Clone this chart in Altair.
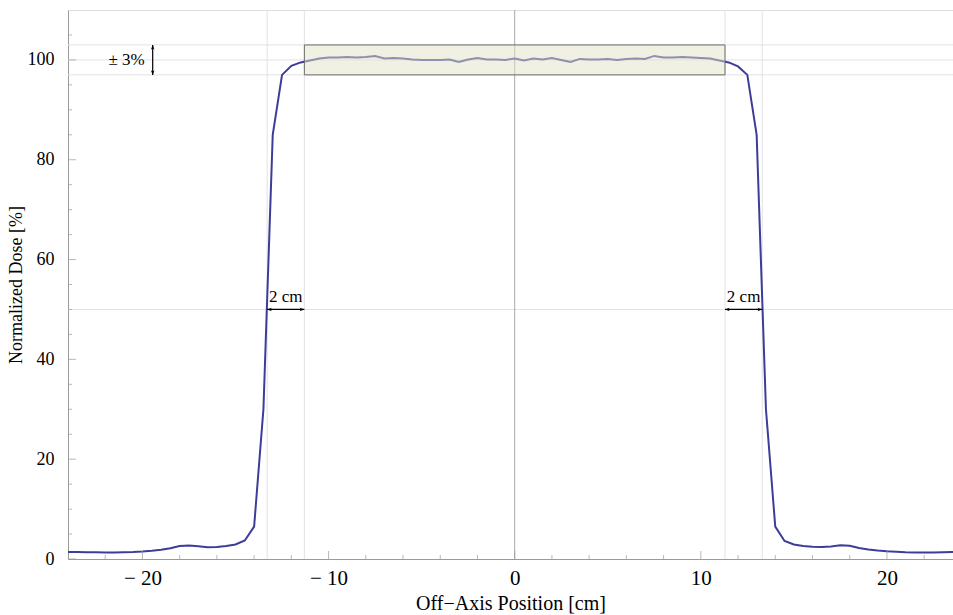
import altair as alt
import numpy as np
import pandas as pd

# Off-axis dose profile, sampled every 0.5 cm
positions = list(np.arange(-24.0, 24.01, 0.5))
dose = [
    1.4, 1.4, 1.35, 1.35, 1.3, 1.3, 1.35, 1.4, 1.5, 1.65,
    1.85, 2.15, 2.6, 2.7, 2.55, 2.35, 2.4, 2.6, 2.9, 3.7,
    6.5, 30.0, 85.0, 97.0, 98.8, 99.5, 99.9, 100.3, 100.5, 100.5,
    100.6, 100.5, 100.6, 100.8, 100.3, 100.4, 100.3, 100.1, 100.0, 100.0,
    100.0, 100.1, 99.6, 100.1, 100.4, 100.1, 100.1, 100.0, 100.3, 99.9,
    100.3, 100.1, 100.4, 100.0, 99.6, 100.2, 100.1, 100.1, 100.2, 100.0,
    100.2, 100.3, 100.2, 100.8, 100.5, 100.5, 100.6, 100.5, 100.4, 100.3,
    99.9, 99.5, 98.7, 97.0, 85.0, 30.0, 6.5, 3.6, 2.9, 2.6,
    2.45, 2.4, 2.5, 2.75, 2.65, 2.2, 1.9, 1.7, 1.55, 1.45,
    1.35, 1.3, 1.3, 1.3, 1.35, 1.4, 1.4,
]
assert len(positions) == len(dose)

# Reference lines: 50% level, penumbra edges, flatness band
edge_lines = [-13.3, -11.3, 11.3, 13.3]
level_lines = [50, 97, 100, 103]
band_x = (-11.3, 11.3)
band_y = (97, 103)

# Axis ticks (drawn inward)
x_major = [-20, -10, 0, 10, 20]
x_minor = [-22, -18, -16, -14, -12, -8, -6, -4, -2, 2, 4, 6, 8, 12, 14, 16, 18, 22]
y_major = [0, 20, 40, 60, 80, 100]
y_minor = [5, 10, 15, 25, 30, 35, 45, 50, 55, 65, 70, 75, 85, 90, 95, 105]

XMIN, XMAX = -24.0, 23.55
YMIN, YMAX = 0.0, 110.0
FONT = "Liberation Serif"
LINE = "#3d3d99"

profile = pd.DataFrame({"x": positions, "dose": dose})

xs = alt.Scale(domain=[XMIN, XMAX], nice=False, zero=False)
ys = alt.Scale(domain=[YMIN, YMAX], nice=False, zero=False)

x_axis = alt.Axis(
    values=x_major, ticks=False, grid=False, domainColor="#9a9a9a",
    labelFont=FONT, labelFontSize=21, labelColor="black", labelPadding=8,
    labelExpr="datum.value < 0 ? '\u2212 ' + abs(datum.value) : datum.label",
    title="Off\u2212Axis Position [cm]", titleFont=FONT, titleFontSize=20,
    titleFontWeight="normal", titleColor="black", titlePadding=5,
)
y_axis = alt.Axis(
    values=y_major, ticks=False, grid=False, domainColor="#9a9a9a",
    labelFont=FONT, labelFontSize=18, labelColor="black", labelPadding=14,
    title="Normalized Dose [%]", titleFont=FONT, titleFontSize=18,
    titleFontWeight="normal", titleColor="black", titlePadding=2,
)

base = alt.Chart(profile)

vgrid = alt.Chart(pd.DataFrame({"x": edge_lines})).mark_rule(
    color="#e2e2e2", strokeWidth=1
).encode(x=alt.X("x:Q", scale=xs))

zero_line = alt.Chart(pd.DataFrame({"x": [0]})).mark_rule(
    color="#a8a8a8", strokeWidth=1
).encode(x=alt.X("x:Q", scale=xs))

hgrid = alt.Chart(pd.DataFrame({"y": level_lines})).mark_rule(
    color="#e2e2e2", strokeWidth=1
).encode(y=alt.Y("y:Q", scale=ys))

curve = base.mark_line(color=LINE, strokeWidth=2, clip=True).encode(
    x=alt.X("x:Q", scale=xs, axis=x_axis),
    y=alt.Y("dose:Q", scale=ys, axis=y_axis),
)

band = alt.Chart(
    pd.DataFrame({"x": [band_x[0]], "x2": [band_x[1]], "y": [band_y[0]], "y2": [band_y[1]]})
).mark_rect(
    fill="#e2e2c8", fillOpacity=0.5, stroke="#6e6e6e", strokeWidth=1
).encode(
    x=alt.X("x:Q", scale=xs), x2="x2:Q",
    y=alt.Y("y:Q", scale=ys), y2="y2:Q",
)

# Double-headed arrows
arrow_path = "M0,0 L-1,-0.38 L-0.72,0 L-1,0.38 Z"
seg = pd.DataFrame({
    "x": [-13.3, 11.3, -19.45],
    "x2": [-11.3, 13.3, -19.45],
    "y": [50, 50, 97],
    "y2": [50, 50, 103],
})
shafts = alt.Chart(seg).mark_rule(color="black", strokeWidth=1.2).encode(
    x=alt.X("x:Q", scale=xs), x2="x2:Q",
    y=alt.Y("y:Q", scale=ys), y2="y2:Q",
)
heads = alt.Chart(pd.DataFrame({
    "x": [-13.3, -11.3, 11.3, 13.3, -19.45, -19.45],
    "y": [50, 50, 50, 50, 103, 97],
    "ang": [180, 0, 180, 0, 270, 90],
})).mark_point(
    shape=arrow_path, filled=True, color="black", size=90, opacity=1
).encode(
    x=alt.X("x:Q", scale=xs), y=alt.Y("y:Q", scale=ys),
    angle=alt.Angle("ang:Q", scale=None),
)

labels = alt.Chart(pd.DataFrame({
    "x": [-12.3, 12.3],
    "y": [50, 50],
    "t": ["2 cm", "2 cm"],
})).mark_text(font=FONT, fontSize=17, baseline="bottom", dy=-3, color="black").encode(
    x=alt.X("x:Q", scale=xs), y=alt.Y("y:Q", scale=ys), text="t:N"
)
pct = alt.Chart(pd.DataFrame({"x": [-20.85], "y": [100], "t": ["\u00b1 3%"]})).mark_text(
    font=FONT, fontSize=17, baseline="middle", color="black"
).encode(x=alt.X("x:Q", scale=xs), y=alt.Y("y:Q", scale=ys), text="t:N")

# Inward tick marks on both axes
def xticks(vals, length):
    return alt.Chart(pd.DataFrame({"x": vals, "y": [0] * len(vals)})).mark_tick(
        orient="vertical", size=length, thickness=1, color="#9a9a9a", yOffset=-length / 2
    ).encode(x=alt.X("x:Q", scale=xs), y=alt.Y("y:Q", scale=ys))

def yticks(vals, length):
    return alt.Chart(pd.DataFrame({"y": vals, "x": [XMIN] * len(vals)})).mark_tick(
        orient="horizontal", size=length, thickness=1, color="#9a9a9a", xOffset=length / 2
    ).encode(x=alt.X("x:Q", scale=xs), y=alt.Y("y:Q", scale=ys))

chart = alt.layer(
    vgrid, hgrid, zero_line, curve, band, shafts, heads, labels, pct,
    xticks(x_major, 8), xticks(x_minor, 4), yticks(y_major, 8), yticks(y_minor, 4),
).properties(
    width=885, height=549,
    autosize=alt.AutoSizeParams(type="none"),
    padding={"left": 68, "top": 10, "right": 0, "bottom": 56},
).configure_view(stroke=None).configure(background="white")

chart.save("out.html", embed_options={"renderer": "svg", "actions": False})
